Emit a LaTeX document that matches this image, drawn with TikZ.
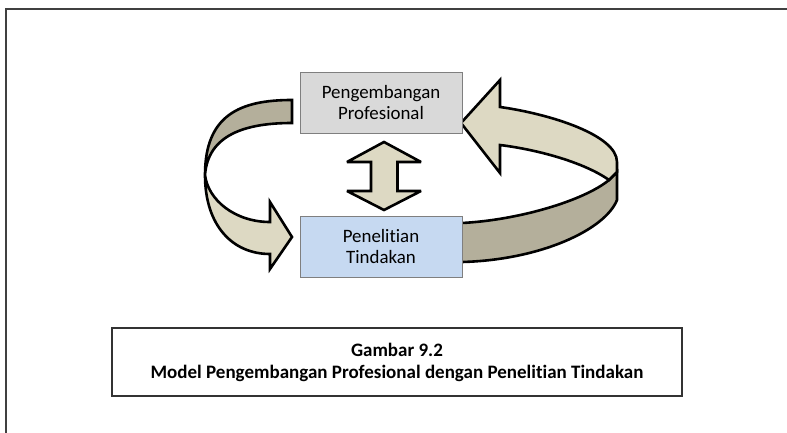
\documentclass[tikz,border=0pt]{standalone}
\usepackage{fontspec}
\setmainfont[Ligatures={NoCommon,NoRare,NoContextual}]{Carlito}
\usetikzlibrary{backgrounds}

\definecolor{abuabu}{HTML}{D9D9D9}
\definecolor{birumuda}{HTML}{C6D9F1}
\definecolor{krem}{HTML}{DDD9C3}
\definecolor{kremtua}{HTML}{B4AF9B}
\definecolor{garisbox}{HTML}{7F7F7F}

\begin{document}
\begin{tikzpicture}[x=1pt, y=-1pt,
        kotak/.style={draw=garisbox, line width=0.8pt, minimum width=162pt, minimum height=61pt,
                      align=center, font=\fontsize{18.9}{21}\selectfont},
        pita/.style={draw=black, line width=2.6pt, miter limit=4},
        keterangan/.style={draw=black!80, line width=1.2pt, minimum width=570pt, minimum height=68pt,
                      align=center, font=\fontsize{19}{22}\selectfont\bfseries}]
            \useasboundingbox (0,0) rectangle (787,433);
            \draw[line width=2pt, black!75] (5.5,433) -- (5.5,9.5) -- (787,9.5);

            \node[kotak, fill=abuabu]   (pengembangan) at (381,102.5) {Pengembangan\\Profesional};
            \node[kotak, fill=birumuda] (penelitian)   at (381,246.5) {Penelitian\\Tindakan};

            \begin{scope}[on background layer]
            % pita kiri: bagian belakang (gelap) lalu bagian depan dengan kepala panah
            \draw[pita, fill=kremtua] (292,100) .. controls (240,100) and (205,115) .. (205,175)
                                                .. controls (208,135) and (245,123) .. (292,123) -- cycle;
            \draw[pita, fill=krem] (205,175) .. controls (205,225) and (232,254) .. (270,254)
                                   -- (270,269) -- (292,237) -- (270,202) -- (270,222)
                                   .. controls (235,222) and (208,200) .. (205,175) -- cycle;

            % pita kanan
            \draw[pita, fill=kremtua] (456,223) -- (462,223) .. controls (520,220) and (585,200) .. (609,180)
                                      -- (617,172) -- (617,200)
                                      .. controls (605,230) and (540,260) .. (462,262) -- (456,262) -- cycle;
            \draw[pita, fill=krem] (500,107) .. controls (550,114) and (617,135) .. (617,162)
                                   -- (617,172) -- (609,180)
                                   .. controls (585,163) and (540,150) .. (500,145)
                                   -- (500,173) -- (461,123) -- (500,80) -- cycle;
            \end{scope}

            % panah dua arah
            \draw[pita, fill=krem] (384,142) -- (421,162) -- (397.5,162) -- (397.5,191) -- (421,191)
                                   -- (384,210) -- (347,191) -- (371,191) -- (371,162) -- (347,162) -- cycle;

            \node[keterangan] (gambar) at (397,362) {Gambar 9.2\\Model Pengembangan Profesional dengan Penelitian Tindakan};
        \end{tikzpicture}
\end{document}
